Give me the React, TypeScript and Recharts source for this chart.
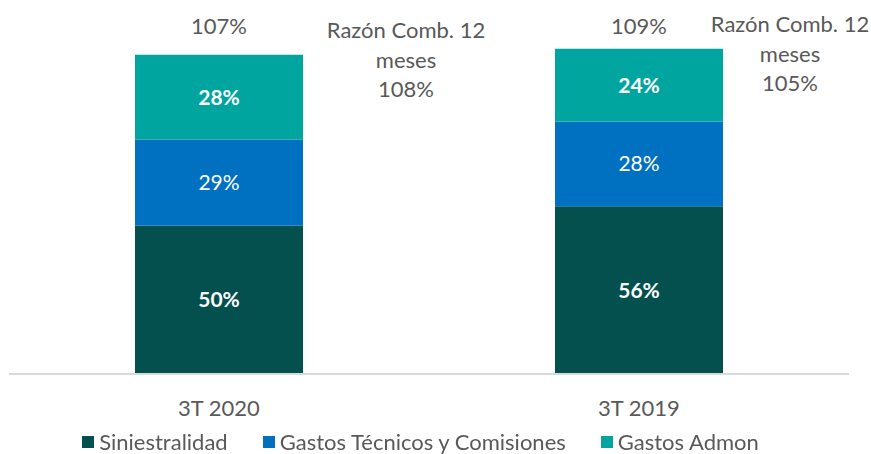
import { BarChart, Bar, XAxis, YAxis, Legend, LabelList } from "recharts";

// ---------------------------------------------------------------------------
// Data
// ---------------------------------------------------------------------------

const PERIODS = ["3T 2020", "3T 2019"];
const SINIESTRALIDAD = [49.7, 56.2];
const GASTOS_TECNICOS = [28.9, 28.4];
const GASTOS_ADMON = [28.4, 24.4];
const TOTAL_LABELS = ["107%", "109%"];
const RAZON_12M = ["108%", "105%"];

const SERIES = [
	{ key: "siniestralidad", label: "Siniestralidad", color: "#03504F", bold: true },
	{ key: "gastosTecnicos", label: "Gastos Técnicos y Comisiones", color: "#0070C0", bold: false },
	{ key: "gastosAdmon", label: "Gastos Admon", color: "#00A59F", bold: true },
];

const data = PERIODS.map((p, i) => ({
	period: p,
	siniestralidad: SINIESTRALIDAD[i],
	gastosTecnicos: GASTOS_TECNICOS[i],
	gastosAdmon: GASTOS_ADMON[i],
}));

const FONT = "Lato, 'Open Sans', sans-serif";
const GREY = "#595959";
const W = 871;
const H = 454;
const FS = 22;

// ---------------------------------------------------------------------------
// Pieces
// ---------------------------------------------------------------------------

function CategoryTick({ x, y, payload }: any) {
	return (
		<text x={x} y={y + 25} textAnchor="middle" dominantBaseline="central" fill={GREY} fontSize={FS} fontFamily={FONT}>
			{payload.value}
		</text>
	);
}

function TopLabels(props: any) {
	const { x, y, width, index } = props;
	const cx = x + width / 2;
	// comment box to the right of the bar, kept inside the picture
	const sx = Math.min(x + width + 103, W - 81);
	return (
		<g fontFamily={FONT} fontSize={FS} fill={GREY} textAnchor="middle">
			<text x={cx} y={25} dominantBaseline="central">{TOTAL_LABELS[index]}</text>
			<text x={sx} y={y - 25} dominantBaseline="central">Razón Comb. 12</text>
			<text x={sx} y={y + 5} dominantBaseline="central">meses</text>
			<text x={sx} y={y + 34} dominantBaseline="central">{RAZON_12M[index]}</text>
		</g>
	);
}

function LegendRow() {
	return (
		<div style={{ display: "flex", justifyContent: "center", alignItems: "center", gap: 35, paddingTop: 4, marginLeft: -17, fontFamily: FONT }}>
			{SERIES.map((s) => (
				<div key={s.key} style={{ display: "flex", alignItems: "center", gap: 5 }}>
					<span style={{ width: 12, height: 12, background: s.color, display: "inline-block" }} />
					<span style={{ color: GREY, fontSize: FS }}>{s.label}</span>
				</div>
			))}
		</div>
	);
}

// ---------------------------------------------------------------------------
// Chart
// ---------------------------------------------------------------------------

export default function App() {
	return (
		<div style={{ position: "fixed", left: 0, top: 0, width: W, height: H, background: "#fff" }}>
			<BarChart width={W} height={H} data={data} margin={{ top: 16, right: 22, left: 9, bottom: 0 }} barSize={168}>
				<XAxis
					dataKey="period"
					height={50}
					tickLine={false}
					axisLine={{ stroke: "#d9d9d9", strokeWidth: 2 }}
					tick={<CategoryTick />}
				/>
				<YAxis hide domain={[0, 120]} />
				<Legend verticalAlign="bottom" height={30} content={<LegendRow />} />
				{SERIES.map((s, i) => (
					<Bar key={s.key} dataKey={s.key} name={s.label} stackId="a" fill={s.color} isAnimationActive={false}>
						<LabelList
							dataKey={s.key}
							position="center"
							formatter={(v: any) => `${Math.round(Number(v))}%`}
							fill="#fff"
							fontSize={21}
							fontWeight={s.bold ? 700 : 400}
							fontFamily={FONT}
						/>
						{i === SERIES.length - 1 && <LabelList dataKey={s.key} content={<TopLabels />} />}
					</Bar>
				))}
			</BarChart>
		</div>
	);
}
